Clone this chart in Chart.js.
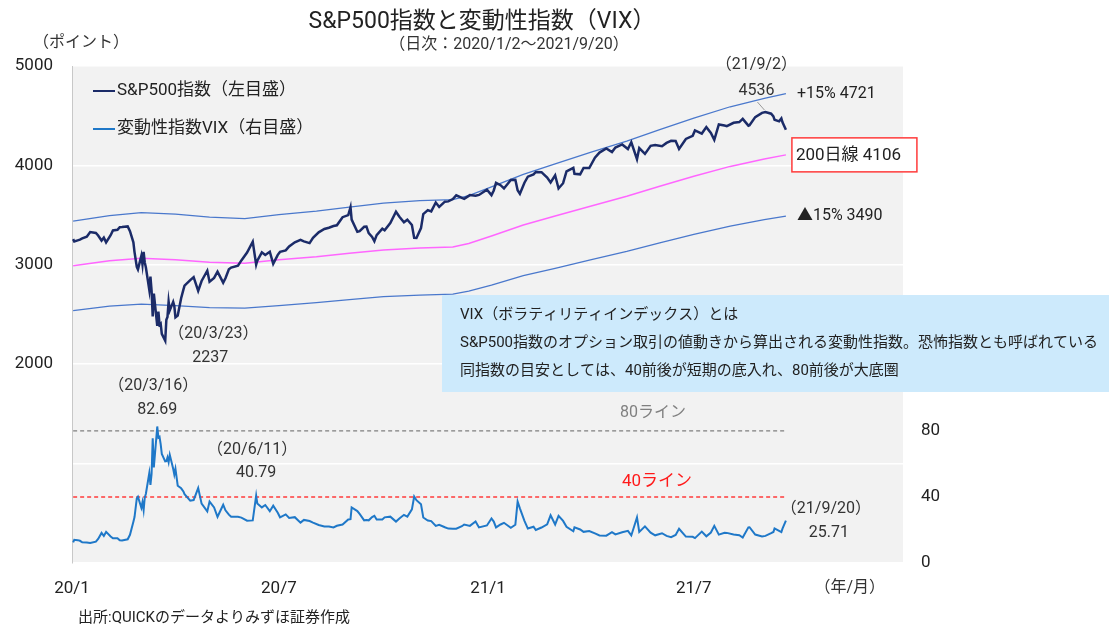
<!DOCTYPE html>
<html lang="ja">
<head>
<meta charset="utf-8">
<title>S&amp;P500指数と変動性指数（VIX）</title>
<script src="https://cdn.jsdelivr.net/npm/chart.js@4.4.1/dist/chart.umd.min.js"></script>
<style>
  html, body { margin: 0; padding: 0; background: #fff; }
  #wrap { width: 1109px; height: 629px; }
</style>
</head>
<body>
<div id="wrap"><canvas id="chart" width="1109" height="629"></canvas></div>
<script>
(function () {
  "use strict";

  // ---- data ----
  const dates = [
    "2020-01-02","2020-01-03","2020-01-06","2020-01-08","2020-01-10","2020-01-14","2020-01-17","2020-01-22",
    "2020-01-24","2020-01-27","2020-01-29","2020-01-31","2020-02-04","2020-02-06","2020-02-10","2020-02-12",
    "2020-02-14","2020-02-19","2020-02-21","2020-02-24","2020-02-25","2020-02-27","2020-02-28","2020-03-02",
    "2020-03-03","2020-03-04","2020-03-05","2020-03-06","2020-03-09","2020-03-10","2020-03-11","2020-03-12",
    "2020-03-13","2020-03-16","2020-03-17","2020-03-18","2020-03-19","2020-03-20","2020-03-23","2020-03-24",
    "2020-03-25","2020-03-26","2020-03-27","2020-03-30","2020-03-31","2020-04-01","2020-04-03","2020-04-06",
    "2020-04-08","2020-04-09","2020-04-14","2020-04-17","2020-04-21","2020-04-24","2020-04-29","2020-05-01",
    "2020-05-05","2020-05-08","2020-05-13","2020-05-15","2020-05-18","2020-05-20","2020-05-26","2020-05-29",
    "2020-06-03","2020-06-08","2020-06-11","2020-06-12","2020-06-16","2020-06-19","2020-06-23","2020-06-26",
    "2020-06-30","2020-07-02","2020-07-07","2020-07-10","2020-07-15","2020-07-20","2020-07-23","2020-07-28",
    "2020-07-31","2020-08-05","2020-08-10","2020-08-14","2020-08-18","2020-08-21","2020-08-26","2020-08-31",
    "2020-09-02","2020-09-03","2020-09-08","2020-09-10","2020-09-14","2020-09-16","2020-09-18","2020-09-21",
    "2020-09-23","2020-09-25","2020-09-30","2020-10-02","2020-10-07","2020-10-12","2020-10-15","2020-10-19",
    "2020-10-22","2020-10-26","2020-10-28","2020-10-30","2020-11-03","2020-11-05","2020-11-09","2020-11-12",
    "2020-11-16","2020-11-19","2020-11-24","2020-11-27","2020-12-01","2020-12-04","2020-12-09","2020-12-11",
    "2020-12-16","2020-12-21","2020-12-24","2020-12-31","2021-01-04","2021-01-06","2021-01-08","2021-01-12",
    "2021-01-15","2021-01-21","2021-01-25","2021-01-27","2021-01-29","2021-02-02","2021-02-05","2021-02-10",
    "2021-02-12","2021-02-17","2021-02-22","2021-02-25","2021-03-01","2021-03-04","2021-03-08","2021-03-11",
    "2021-03-17","2021-03-18","2021-03-23","2021-03-26","2021-03-31","2021-04-05","2021-04-09","2021-04-15",
    "2021-04-20","2021-04-23","2021-04-29","2021-05-04","2021-05-07","2021-05-12","2021-05-14","2021-05-19",
    "2021-05-24","2021-05-28","2021-06-03","2021-06-07","2021-06-11","2021-06-15","2021-06-18","2021-06-24",
    "2021-06-30","2021-07-02","2021-07-08","2021-07-12","2021-07-16","2021-07-19","2021-07-23","2021-07-28",
    "2021-07-30","2021-08-05","2021-08-10","2021-08-13","2021-08-18","2021-08-19","2021-08-24","2021-08-30",
    "2021-09-02","2021-09-07","2021-09-09","2021-09-10","2021-09-14","2021-09-16","2021-09-17","2021-09-20"
  ];

  const spx = [
    3258,3235,3246,3253,3265,3283,3330,3321, 3295,3244,3273,3226,3298,3345,3352,3379,
    3380,3386,3338,3226,3128,2979,2954,3090, 3003,3130,3024,2972,2747,2882,2741,2481,
    2711,2386,2529,2398,2409,2305,2237,2447, 2476,2630,2541,2627,2585,2471,2489,2664,
    2750,2790,2846,2875,2737,2837,2940,2830, 2868,2930,2820,2864,2954,2972,2992,3044,
    3123,3232,3002,3041,3125,3098,3131,3009, 3100,3130,3145,3185,3227,3251,3236,3218,
    3271,3327,3360,3373,3390,3397,3479,3500, 3580,3455,3332,3339,3383,3385,3319,3281,
    3237,3298,3363,3348,3419,3534,3483,3427, 3453,3401,3271,3270,3369,3510,3550,3537,
    3627,3582,3635,3638,3662,3699,3673,3663, 3701,3694,3703,3756,3701,3748,3825,3801,
    3768,3853,3855,3751,3714,3826,3887,3910, 3934,3932,3877,3829,3901,3768,3821,3939,
    3975,3915,3910,3974,3973,4078,4129,4170, 4135,4180,4211,4165,4233,4063,4174,4116,
    4197,4204,4193,4226,4247,4246,4166,4266, 4298,4352,4320,4385,4327,4258,4412,4401,
    4395,4429,4436,4468,4400,4405,4486,4529, 4537,4520,4493,4459,4443,4473,4433,4358
  ];

  const vix = [
    12.47,14.02,13.85,13.45,12.56,12.39,12.10,12.91, 14.56,18.23,16.39,18.84,16.05,14.96,15.04,13.74,
    13.68,14.38,17.08,25.03,27.85,39.16,40.11,33.42, 36.82,31.99,39.62,41.94,54.46,47.30,53.90,75.47,
    57.83,82.69,75.91,76.45,72.00,66.04,61.59,61.67, 63.95,61.00,65.54,57.08,53.54,57.06,46.80,45.24,
    43.35,41.67,37.76,38.15,45.41,35.93,31.23,37.19, 33.61,27.98,35.28,31.89,29.30,27.99,28.01,27.51,
    25.66,25.81,40.79,36.09,33.67,35.12,31.37,34.73, 30.43,27.68,29.43,27.29,27.76,24.46,26.08,25.44,
    24.46,22.99,22.13,22.05,21.51,22.54,23.27,26.41, 26.57,33.60,31.46,29.71,25.85,26.04,25.83,27.78,
    28.58,26.38,26.37,27.63,28.06,25.07,26.97,29.18, 28.11,32.46,40.28,38.02,35.55,27.58,25.75,25.35,
    22.45,23.11,21.64,20.84,20.77,20.79,22.27,23.31, 22.50,25.16,21.53,22.75,26.97,25.07,21.56,23.33,
    24.34,21.32,23.19,37.21,33.09,25.56,20.87,21.99, 19.97,21.50,23.45,28.89,23.35,28.57,25.47,21.91,
    19.23,21.58,20.30,18.86,19.40,17.91,16.69,16.57, 18.68,17.33,18.61,19.48,16.69,27.59,18.81,22.18,
    18.40,16.76,18.04,16.42,15.65,17.02,20.70,15.97, 15.83,15.07,19.00,16.17,18.45,22.50,17.20,18.31,
    18.24,17.28,16.79,15.45,21.57,21.67,17.22,16.11, 16.41,18.08,18.80,20.95,19.46,18.69,20.81,25.71
  ];

  // 200-day moving average and its +15% / -15% bands
  const maDates = [
    "2020-01-02","2020-02-03","2020-03-02","2020-04-01","2020-05-01","2020-06-01","2020-07-01","2020-08-03",
    "2020-09-01","2020-10-01","2020-11-02","2020-12-01","2020-12-15","2021-01-04","2021-02-01","2021-03-01",
    "2021-04-01","2021-05-03","2021-06-01","2021-07-01","2021-08-02","2021-09-01","2021-09-20"
  ];
  const ma200 = [
    2990,3040,3065,3050,3025,3015,3050,3080, 3115,3150,3170,3180,3215,3290,3400,3490,
    3590,3690,3790,3890,3990,4065,4106
  ];
  const bandUpper = [
    3440,3495,3525,3510,3480,3465,3505,3540, 3580,3620,3645,3655,3695,3785,3910,4015,
    4130,4245,4360,4475,4590,4675,4721
  ];
  const bandLower = [
    2540,2585,2605,2590,2570,2565,2590,2620, 2650,2680,2695,2705,2735,2795,2890,2965,
    3050,3135,3220,3305,3390,3455,3490
  ];

  // VIX guide lines (right axis)
  const guideSpan = ["2020-01-02", "2021-09-20"];
  const guide80 = [80, 80];
  const guide40 = [40, 40];

  const xTickDates = ["2020-01-01", "2020-07-01", "2021-01-01", "2021-07-01"];
  const xTickLabels = ["20/1", "20/7", "21/1", "21/7"];
  const leftTicks = [0, 1000, 2000, 3000, 4000, 5000];
  const rightTicks = [0, 40, 80];

  // ---- helpers ----
  const FONT = 'Roboto, "Noto Sans CJK JP", sans-serif';
  const ORIGIN = Date.UTC(2020, 0, 1);

  /** Days since 2020-01-01 for an ISO date string. */
  function dayOf(s) {
    const p = s.split("-").map(Number);
    return (Date.UTC(p[0], p[1] - 1, p[2]) - ORIGIN) / 86400000;
  }

  function points(ds, vs) {
    return ds.map((d, i) => ({ x: dayOf(d), y: vs[i] }));
  }

  function label(ctx, s, x, y, size, color, align) {
    ctx.font = size + "px " + FONT;
    ctx.fillStyle = color || "#333";
    ctx.textAlign = align || "left";
    ctx.textBaseline = "middle";
    ctx.fillText(s, x, y);
  }

  // ---- plugin: plot background, titles, legend, notes ----
  const decor = {
    id: "decor",
    beforeDraw(chart) {
      const { ctx, chartArea: a } = chart;
      ctx.save();
      ctx.fillStyle = "#f2f2f2";
      ctx.fillRect(a.left, a.top, a.right - a.left, a.bottom - a.top);
      ctx.restore();
    },
    afterDraw(chart) {
      const { ctx } = chart;
      const sx = chart.scales.x, sy = chart.scales.y, sr = chart.scales.y1;
      const px = (d) => sx.getPixelForValue(dayOf(d));
      const last = dates.length - 1;
      ctx.save();

      // titles
      label(ctx, "S&P500指数と変動性指数（VIX）", 482, 22, 23, "#222", "center");
      label(ctx, "（日次：2020/1/2～2021/9/20）", 509, 45, 16, "#333", "center");
      label(ctx, "（ポイント）", 81, 43, 16, "#333", "center");
      label(ctx, "（年/月）", 885, 588, 16, "#333", "right");
      label(ctx, "出所:QUICKのデータよりみずほ証券作成", 78, 618, 15, "#222", "left");

      // legend
      const legend = [
        { text: "S&P500指数（左目盛）", color: chart.data.datasets[0].borderColor, y: 91 },
        { text: "変動性指数VIX（右目盛）", color: chart.data.datasets[4].borderColor, y: 129 },
      ];
      legend.forEach((it) => {
        ctx.strokeStyle = it.color;
        ctx.lineWidth = 2;
        ctx.beginPath();
        ctx.moveTo(93, it.y);
        ctx.lineTo(115, it.y);
        ctx.stroke();
        label(ctx, it.text, 117, it.y, 17, "#222", "left");
      });

      // S&P notes
      const iMin = spx.indexOf(Math.min(...spx));
      const xMin = px(dates[iMin]), yMin = sy.getPixelForValue(spx[iMin]);
      label(ctx, "（20/3/23）", xMin + 3, yMin - 7, 16, "#333", "left");
      label(ctx, "2237", xMin + 45, yMin + 17, 16, "#333", "center");

      const iTop = dates.indexOf("2021-09-02");
      const xTop = px(dates[iTop]), yTop = sy.getPixelForValue(spx[iTop]);
      label(ctx, "（21/9/2）", xTop - 9, yTop - 47, 16, "#333", "center");
      label(ctx, "4536", xTop - 9, yTop - 21, 16, "#333", "center");
      ctx.strokeStyle = "#9a9a9a";
      ctx.lineWidth = 1;
      ctx.beginPath();
      ctx.moveTo(xTop - 8, yTop - 10);
      ctx.lineTo(xTop - 1, yTop - 2);
      ctx.stroke();

      const xEnd = px(maDates[maDates.length - 1]);
      const n = maDates.length - 1;
      label(ctx, "+15% 4721", xEnd + 11, sy.getPixelForValue(bandUpper[n]), 16, "#222", "left");
      const yMa = sy.getPixelForValue(ma200[n]);
      ctx.fillStyle = "#fff";
      ctx.fillRect(xEnd + 6, yMa - 17, 125, 34);
      ctx.strokeStyle = "#ff3b3b";
      ctx.lineWidth = 1.5;
      ctx.strokeRect(xEnd + 6, yMa - 17, 125, 34);
      label(ctx, "200日線 4106", xEnd + 10, yMa + 1, 17, "#222", "left");
      label(ctx, "▲15% 3490", xEnd + 11, sy.getPixelForValue(bandLower[n]), 16, "#222", "left");

      // VIX notes
      const iPeak = vix.indexOf(Math.max(...vix));
      const xPeak = px(dates[iPeak]), yPeak = sr.getPixelForValue(vix[iPeak]);
      label(ctx, "（20/3/16）", xPeak - 4, yPeak - 40, 16, "#333", "center");
      label(ctx, "82.69", xPeak, yPeak - 16, 16, "#333", "center");

      const iJun = dates.indexOf("2020-06-11");
      const xJun = px(dates[iJun]), yJun = sr.getPixelForValue(vix[iJun]);
      label(ctx, "（20/6/11）", xJun - 4, yJun - 46, 16, "#333", "center");
      label(ctx, "40.79", xJun, yJun - 23, 16, "#333", "center");

      const xLast = px(dates[last]), yLast = sr.getPixelForValue(vix[last]);
      label(ctx, "（21/9/20）", xLast + 40, yLast - 12, 16, "#333", "center");
      label(ctx, "25.71", xLast + 43, yLast + 12, 16, "#333", "center");

      label(ctx, "80ライン", 620, sr.getPixelForValue(guide80[0]) - 18, 16, "#808080", "left");
      label(ctx, "40ライン", 622, sr.getPixelForValue(guide40[0]) - 15, 17, "#ff1a1a", "left");

      // explanation box
      ctx.fillStyle = "#cdeafc";
      ctx.fillRect(442, 295, 1109 - 442, 97);
      label(ctx, "VIX（ボラティリティインデックス）とは", 460, 315, 15, "#222", "left");
      label(ctx, "S&P500指数のオプション取引の値動きから算出される変動性指数。恐怖指数とも呼ばれている", 460, 343, 15, "#222", "left");
      label(ctx, "同指数の目安としては、40前後が短期の底入れ、80前後が大底圏", 460, 371, 15, "#222", "left");

      ctx.restore();
    },
  };

  const line = (data, axis, color, width, order, dash) => ({
    data: data,
    yAxisID: axis,
    borderColor: color,
    backgroundColor: color,
    borderWidth: width,
    borderDash: dash || [],
    pointRadius: 0,
    tension: 0,
    fill: false,
    order: order,
  });

  Chart.defaults.font.family = FONT;
  Chart.defaults.color = "#333";

  new Chart(document.getElementById("chart").getContext("2d"), {
    type: "line",
    data: {
      datasets: [
        Object.assign(line(points(dates, spx), "y", "#1b2b68", 2.5, 1), { label: "S&P500指数（左目盛）" }),
        Object.assign(line(points(maDates, bandUpper), "y", "#4a78cc", 1.3, 3), { label: "+15%" }),
        Object.assign(line(points(maDates, ma200), "y", "#ff66ff", 1.5, 4), { label: "200日線" }),
        Object.assign(line(points(maDates, bandLower), "y", "#4a78cc", 1.3, 3), { label: "▲15%" }),
        Object.assign(line(points(dates, vix), "y1", "#1f78c8", 2, 2), { label: "変動性指数VIX（右目盛）" }),
        Object.assign(line(points(guideSpan, guide80), "y1", "#7f7f7f", 1.3, 5, [4, 3]), { label: "80ライン" }),
        Object.assign(line(points(guideSpan, guide40), "y1", "#ff3b3b", 1.5, 5, [4, 3]), { label: "40ライン" }),
      ],
    },
    options: {
      responsive: false,
      animation: false,
      layout: { padding: { top: 66, left: 0, right: 0, bottom: 0 } },
      plugins: { legend: { display: false }, tooltip: { enabled: false } },
      scales: {
        x: {
          type: "linear",
          min: dayOf("2020-01-01"),
          max: dayOf("2022-01-01"),
          grid: { display: false, drawTicks: false },
          border: { display: false },
          afterBuildTicks: (s) => { s.ticks = xTickDates.map((d) => ({ value: dayOf(d) })); },
          afterFit: (s) => { s.height = 66; },
          ticks: {
            autoSkip: false,
            maxRotation: 0,
            padding: 16,
            font: { size: 17 },
            color: "#222",
            callback: (v, i) => xTickLabels[i],
          },
        },
        y: {
          position: "left",
          min: 0,
          max: 5000,
          afterBuildTicks: (s) => { s.ticks = leftTicks.map((v) => ({ value: v })); },
          afterFit: (s) => { s.width = 72; },
          grid: { color: "#ffffff", lineWidth: 1.5, drawTicks: false },
          border: { display: true, color: "#c8c8c8", width: 1 },
          ticks: {
            padding: 19,
            font: { size: 17 },
            color: "#222",
            callback: (v) => (v >= 2000 ? String(v) : ""),
          },
        },
        y1: {
          position: "right",
          min: 0,
          max: 301,
          afterBuildTicks: (s) => { s.ticks = rightTicks.map((v) => ({ value: v })); },
          afterFit: (s) => { s.width = 206; },
          grid: { display: false, drawTicks: false },
          border: { display: false },
          ticks: { padding: 18, font: { size: 17 }, color: "#222" },
        },
      },
    },
    plugins: [decor],
  });
})();
</script>
</body>
</html>
